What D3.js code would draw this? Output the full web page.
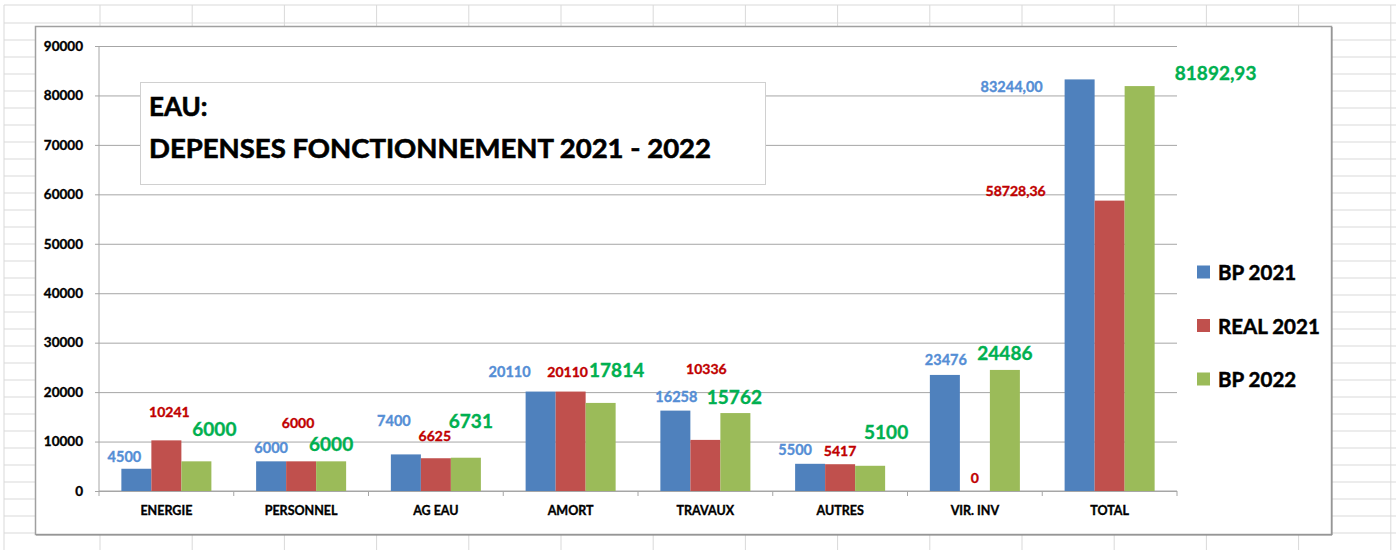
<!DOCTYPE html>
<html>
<head>
<meta charset="utf-8">
<script src="https://cdn.jsdelivr.net/npm/d3@7"></script>
<style>
	body {
		margin: 0;
		background: #ffffff;
	}
	svg text {
		font-family: Lato, "Open Sans", sans-serif;
		font-weight: bold;
		paint-order: stroke;
		stroke-width: 0.35px;
	}
	.grid .tick line {
		stroke: #a6a6a6;
	}
	.grid path {
		stroke-width: 0;
	}
	.axis--y path, .axis--x path {
		display: none;
	}
	.axis--y .tick line {
		stroke: #a6a6a6;
	}
	.axis--y text {
		font-size: 13.5px;
		fill: #000;
		stroke: #000;
	}
	.axis--x text {
		font-size: 12.5px;
		fill: #000;
		stroke: #000;
	}
</style>
</head>
<body>
<div id="container"></div>
<script>
	// chart data
	var categories = ["ENERGIE", "PERSONNEL", "AG EAU", "AMORT", "TRAVAUX", "AUTRES", "VIR. INV", "TOTAL"];
	var seriesNames = ["BP 2021", "REAL 2021", "BP 2022"];
	var bp2021 = [4500, 6000, 7400, 20110, 16258, 5500, 23476, 83244.00];
	var real2021 = [10241, 6000, 6625, 20110, 10336, 5417, 0, 58728.36];
	var bp2022 = [6000, 6000, 6731, 17814, 15762, 5100, 24486, 81892.93];
	var yTicks = [0, 10000, 20000, 30000, 40000, 50000, 60000, 70000, 80000, 90000];
	var titleLines = ["EAU:", "DEPENSES FONCTIONNEMENT 2021 - 2022"];

	// styling
	var barColors = ["#4f81bd", "#c0504d", "#9bbb59"];
	var labelColors = ["#558ed5", "#c00000", "#00b050"];
	var labelSizes = ["14.5px", "14px", "19px"];
	// hand placed labels (dx, dy from top middle of the bar), as in the sheet
	var labelNudge = [
		[[-12, -12], [3, -29], [18, -33]],
		[[0, -14], [-3, -39], [0, -18]],
		[[-12, -34], [-1, -23], [5, -37]],
		[[-31, -20], [-3, -20], [16, -33]],
		[[1, -14], [1, -71], [-1, -17]],
		[[-15, -14], [0, -14], [16, -34]],
		[[1, -15], [0, -14], [0, -17]],
		[[-68, 7], [-94, -10], [76, -14]]
	];

	var W = 1396, H = 550;
	var margin = {top: 46, left: 99};
	var width = 1177 - 99;
	var height = 491 - 46;

	var svg = d3.select("#container").append("svg")
		.attr("width", W)
		.attr("height", H);

	// spreadsheet cells behind the chart
	var sheet = svg.append("g").attr("class", "sheet");
	var colX = [4].concat(d3.range(100, W, 92.2));
	var rowY = [5].concat(d3.range(23, H, 17));
	sheet.selectAll(".col").data(colX).enter().append("line")
		.attr("x1", d => d).attr("x2", d => d)
		.attr("y1", 5).attr("y2", H)
		.style("stroke", "#d9d9d9");
	sheet.selectAll(".row").data(rowY).enter().append("line")
		.attr("x1", 4).attr("x2", W)
		.attr("y1", d => d).attr("y2", d => d)
		.style("stroke", "#d9d9d9");

	// chart area
	svg.append("rect")
		.attr("x", 35.5).attr("y", 26.5)
		.attr("width", 1296).attr("height", 508)
		.attr("fill", "#fff")
		.style("stroke", "#a0a0a0")
		.style("stroke-width", 1.5);
	// darker right and bottom edge
	svg.append("path")
		.attr("d", "M1332,27V535H36")
		.attr("fill", "none")
		.style("stroke", "#8c8c8c")
		.style("stroke-width", 1);

	var x0 = d3.scaleBand().domain(categories).range([0, width]).paddingInner(0.332).paddingOuter(0.166);
	var x1 = d3.scaleBand().domain(seriesNames).range([0, x0.bandwidth()]);
	var y = d3.scaleLinear().domain([0, 90000]).range([height, 0]);

	var g = svg.append("g")
		.attr("transform", "translate(" + margin.left + "," + margin.top + ")");

	g.append("g")
		.attr("class", "grid")
		.call(d3.axisRight(y).tickValues(yTicks).tickSize(width))
		.call(g => g.selectAll(".tick text").remove());

	g.append("g")
		.attr("class", "axis axis--y")
		.call(d3.axisLeft(y).tickValues(yTicks).tickSize(4).tickPadding(12).tickFormat(d3.format("d")));

	// axis lines
	g.append("line")
		.attr("x1", 0).attr("x2", 0).attr("y1", 0).attr("y2", height)
		.style("stroke", "#a6a6a6");
	g.append("line")
		.attr("x1", 0).attr("x2", width).attr("y1", height).attr("y2", height)
		.style("stroke", "#a6a6a6");

	// category boundary ticks
	var step = x0.step();
	g.selectAll(".xtick").data(d3.range(categories.length + 1)).enter().append("line")
		.attr("x1", d => d * step).attr("x2", d => d * step)
		.attr("y1", height).attr("y2", height + 5)
		.style("stroke", "#a6a6a6");

	g.append("g")
		.attr("class", "axis axis--x")
		.attr("transform", "translate(0," + height + ")")
		.call(d3.axisBottom(x0).tickSize(0).tickPadding(15))
		.call(g => g.selectAll(".tick line").remove());

	var series = [bp2021, real2021, bp2022];
	var rows = categories.map(function(c, i) {
		return {cat: c, idx: i, vals: series.map((s, k) => ({key: seriesNames[k], k: k, v: s[i]}))};
	});

	var groups = g.selectAll(".group").data(rows).enter().append("g")
		.attr("transform", d => "translate(" + x0(d.cat) + ",0)");

	groups.selectAll("rect").data(d => d.vals).enter().append("rect")
		.attr("x", d => x1(d.key))
		.attr("y", d => y(d.v))
		.attr("width", x1.bandwidth())
		.attr("height", d => height - y(d.v))
		.attr("fill", d => barColors[d.k]);

	groups.each(function(row) {
		d3.select(this).selectAll("text.lbl").data(row.vals).enter().append("text")
			.attr("class", "lbl")
			.attr("x", d => x1(d.key) + x1.bandwidth() / 2 + labelNudge[row.idx][d.k][0])
			.attr("y", d => y(d.v) + labelNudge[row.idx][d.k][1])
			.attr("text-anchor", "middle")
			.attr("dominant-baseline", "central")
			.attr("fill", d => labelColors[d.k])
			.style("stroke", d => labelColors[d.k])
			.attr("font-size", d => labelSizes[d.k])
			.text(d => row.cat == "TOTAL" ? d.v.toFixed(2).replace(".", ",") : String(d.v));
	});

	// title box
	svg.append("rect")
		.attr("x", 140.5).attr("y", 82.5)
		.attr("width", 625).attr("height", 102)
		.attr("fill", "#fff")
		.style("stroke", "#d0d0d0");
	svg.selectAll(".title").data(titleLines).enter().append("text")
		.attr("x", 149)
		.attr("y", (d, i) => 116 + i * 42)
		.attr("font-size", "26px")
		.attr("fill", "#000")
		.style("stroke", "#000")
		.style("stroke-width", "0.6px")
		.attr("textLength", (d, i) => i == 1 ? 562 : null)
		.attr("lengthAdjust", "spacingAndGlyphs")
		.text(d => d);

	// legend
	var legend = svg.selectAll(".legend").data(seriesNames).enter().append("g")
		.attr("transform", (d, i) => "translate(1197," + (272 + i * 53.5) + ")");
	legend.append("rect")
		.attr("x", 0).attr("y", -6.5)
		.attr("width", 13).attr("height", 13)
		.attr("fill", (d, i) => barColors[i]);
	legend.append("text")
		.attr("x", 21)
		.attr("y", 0)
		.attr("dominant-baseline", "central")
		.attr("font-size", "20.5px")
		.attr("fill", "#000")
		.style("stroke", "#000")
		.style("stroke-width", "0.5px")
		.text(d => d);
</script>
</body>
</html>
